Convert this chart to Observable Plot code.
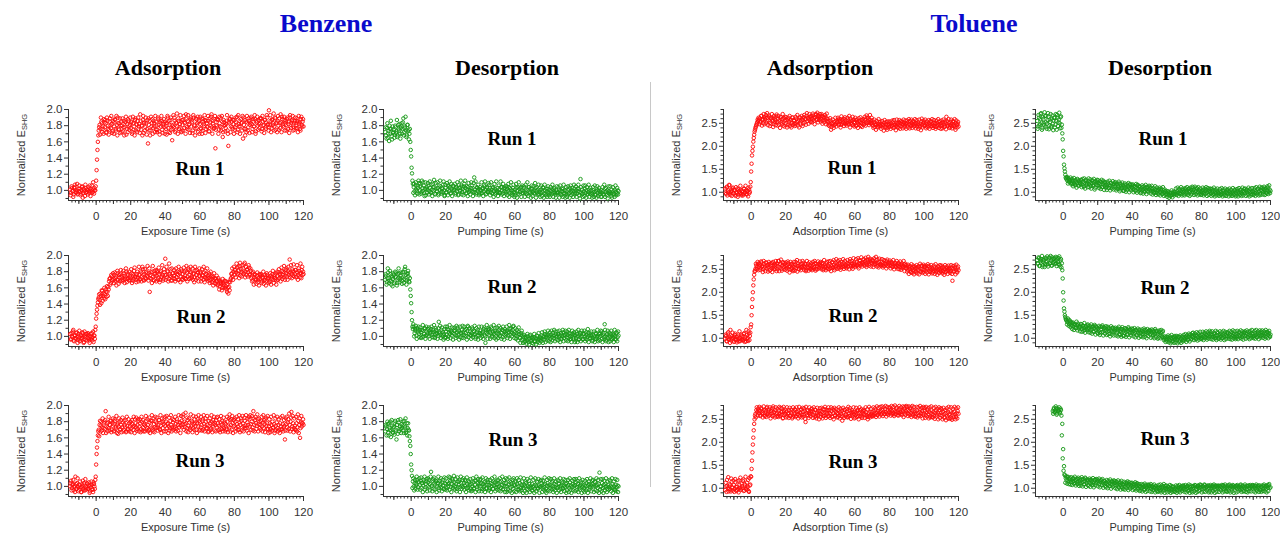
<!DOCTYPE html>
<html>
<head>
<meta charset="utf-8">
<script src="https://cdn.jsdelivr.net/npm/d3@7"></script>
<script src="https://cdn.jsdelivr.net/npm/@observablehq/plot@0.6"></script>
<style>
  html, body { margin: 0; padding: 0; background: #fff; }
  #fig { position: relative; width: 1280px; height: 535px; background: #fff; overflow: hidden; }
  .abs { position: absolute; white-space: nowrap; transform: translate(-50%, -50%); line-height: 1; }
  .gas { font-family: "Liberation Serif", "Times New Roman", serif; font-weight: bold; font-size: 26px; color: #0a0acc; }
  .head { font-family: "Liberation Serif", "Times New Roman", serif; font-weight: bold; font-size: 22px; color: #000; }
  .run { font-family: "Liberation Serif", "Times New Roman", serif; font-weight: bold; font-size: 19px; color: #000; }
  .xlab { font-family: "Liberation Sans", Arial, sans-serif; font-size: 11px; color: #333; }
  .ylab { font-family: "Liberation Sans", Arial, sans-serif; font-size: 11px; color: #333; transform: translate(-50%, -50%) rotate(-90deg); }
  .ylab sub { font-size: 7.5px; vertical-align: -2px; }
  .divider { position: absolute; left: 650px; top: 82px; width: 1px; height: 405px; background: #c8c8c8; }
  .panel { position: absolute; }
</style>
</head>
<body>
<div id="fig"></div>
<script>
// ---------------- DATA (normalized E_SHG, in hundredths) ----------------
// "A" series sampled every 0.5 s from their start time; "B" series are the interleaved
// samples 0.25 s later.
const sampleStep = 0.5;
const interleaveOffset = 0.25;

const benzeneAdsRun1 = `
101 97 103 99 95 104 100 98 108 96  99 102 94 100 105 97 101 93 103 98  100 104 97 102 99 106 98 101 103 100
112 138 160 174 181 176 185 172 179 188  178 183 171 186 180 175 189 177 182 173  184 179 187 174 181 190 176 183 171 185
180 173 186 178 184 169 182 188 175 181  177 185 172 183 179 187 174 181 186 176  182 194 175 180 187 171 184 178 183 176
158 181 186 174 179 188 177 183 172 185  180 175 188 173 184 179 186 171 182 178  185 176 183 190 172 181 187 175 162 180
178 186 174 183 179 189 176 182 185 173  181 187 177 184 194 178 186 175 182 188  179 185 174 190 181 176 188 183 172 186
182 177 189 174 185 180 187 176 183 179  186 173 184 191 178 183 176 188 152 181  180 187 175 183 190 178 185 172 184 181
177 186 174 155 183 188 179 185 176 182  187 178 184 191 175 182 186 179 183 174  164 181 187 176 172 184 178 186 181 189
182 176 185 179 188 173 184 180 187 177  183 189 176 185 181 187 178 184 190 182  199 181 186 177 188 183 179 190 175 184
186 180 189 177 184 191 182 178 187 183  181 188 176 185 190 179 184 187 174 183  186 180 189 177 184 182 176 188 181 185
179`;
const benzeneAdsRun1B = `
94 105 99 92 103 107 97 100 95 102  106 98 96 104 91 102 99 107 97 101  95 99 106 93 101 97 110 96 100 105
125 150 168 178 169 190 183 176 170 184  187 172 190 176 169 185 180 192 171 186  170 188 176 192 168 183 175 189 180 172
189 178 168 185 191 176 172 186 179 190  184 170 191 175 168 189 182 172 190 179  171 186 180 168 192 183 174 190 169 187
189 174 168 191 183 170 186 179 192 175  172 190 181 169 186 192 175 180 188 170  183 169 192 177 186 171 190 181 176 193
190 172 184 195 170 186 178 193 172 187  174 192 183 170 188 176 193 181 171 190  187 171 193 180 168 189 177 191 184 170
191 176 170 188 182 193 171 186 178 192  173 189 180 194 170 186 177 192 175 188  188 170 191 179 174 192 166 187 180 173
182 193 170 185 189 172 191 178 187 170  175 190 181 172 193 179 170 188 184 192  190 176 168 185 192 174 189 171 183 191
172 188 179 193 170 186 191 175 182 189  189 173 192 180 171 187 176 193 181 174  178 193 172 187 181 195 174 189 183 172
192 175 183 194 172 188 180 191 174 186  174 190 182 171 193 177 186 192 181 175  190 177 186 172 192 184 174 191 179 188`;

const benzeneAdsRun2 = `
103 97 100 106 95 101 98 104 99 96  100 94 102 97 105 99 93 101 96 103  98 102 95 100 97 104 99 93 101 108
122 133 142 148 145 153 141 156 150 147  152 158 149 155 161 168 172 166 174 169  171 176 168 174 170 178 165 173 177 169
175 170 178 166 173 180 171 176 169 174  172 178 169 175 181 173 170 177 174 168  176 171 179 174 183 170 177 172 180 175
173 178 155 176 171 180 174 169 177 182  175 179 172 177 170 181 174 176 171 179  196 176 173 180 171 177 183 174 169 178
175 171 179 173 180 176 170 178 174 181  177 173 180 175 171 179 174 182 176 172  179 174 170 178 173 181 176 172 179 175
174 178 172 176 170 179 173 177 171 175  172 176 169 174 167 173 170 166 172 168  169 164 170 162 167 165 160 166 163 168
162 158 165 153 161 167 172 178 174 180  176 182 179 185 177 181 187 175 183 179  184 178 191 180 176 183 179 185 177 181
174 178 169 173 176 170 175 167 172 177  171 175 168 173 165 170 174 169 176 172  173 168 175 171 177 170 174 172 178 169
175 179 172 177 174 181 176 173 179 175  178 174 181 176 195 179 177 183 175 180  177 182 174 179 176 181 173 178 182 176
177`;
const benzeneAdsRun2B = `
96 104 99 108 94 101 97 105 92 103  107 95 101 98 104 92 106 99 103 95  104 97 92 103 99 95 106 101 97 112
128 138 146 152 139 150 157 144 153 160  146 155 162 150 158 171 164 176 170 178  166 179 172 163 181 170 176 168 182 173
168 181 175 171 184 167 178 172 180 170  183 166 177 171 185 174 167 180 172 186  170 181 168 186 176 169 183 171 178 187
169 184 172 179 166 187 170 181 175 168  181 170 185 167 179 173 188 169 183 176  170 186 181 168 190 175 169 184 178 172
182 168 184 177 170 186 180 167 183 171  170 185 172 181 187 168 184 171 180 186  172 184 177 167 186 170 182 179 168 184
180 168 183 175 186 167 181 172 184 169  178 166 180 171 175 163 178 171 165 175  163 172 158 168 166 157 171 161 169 160
168 155 160 167 157 170 177 184 170 186  182 173 190 178 186 172 191 180 174 188  177 189 173 186 182 174 188 176 184 172
168 180 164 177 171 165 179 170 163 176  177 166 172 180 169 176 163 178 171 166  167 178 164 173 181 166 176 170 164 180
170 183 176 168 185 171 180 187 170 182  184 170 186 179 173 188 172 181 189 174  182 173 188 170 184 178 190 172 186 180`;

const benzeneAdsRun3 = `
100 107 98 103 95 101 112 97 104 99  96 102 99 93 101 97 104 95 100 98  103 97 101 94 99 102 96 105 100 108
127 148 163 170 176 168 180 173 166 178  171 193 174 168 179 172 176 181 170 175  177 169 181 173 166 178 174 180 171 176
173 179 170 176 182 168 175 171 178 174  180 172 177 170 175 183 173 169 176 181  174 178 171 180 173 168 177 175 181 172
176 170 179 174 172 181 168 177 173 180  178 173 176 182 170 175 179 172 177 184  175 180 172 178 174 169 181 176 173 179
182 174 177 171 180 176 173 179 175 181  176 189 180 173 178 172 182 175 179 170  174 179 172 177 183 175 170 178 174 181
179 173 176 181 170 177 174 180 172 176  181 175 178 172 180 174 177 169 176 182  173 178 175 170 179 176 181 174 172 178
177 171 180 175 173 182 176 170 178 174  175 180 172 177 174 170 179 176 181 173  178 174 181 175 172 179 176 186 174 177
180 173 193 176 182 178 175 183 177 180  176 181 174 179 172 177 183 175 178 171  174 178 171 176 180 173 177 169 175 179
172 176 170 178 174 171 177 173 175 169  177 173 179 171 176 180 192 174 178 172  175 170 178 173 181 176 160 179 174 178
176`;
const benzeneAdsRun3B = `
104 95 102 108 99 93 103 97 110 94  101 106 93 99 107 95 102 109 96 104  97 105 92 101 106 96 93 103 97 112
140 156 168 162 181 175 169 184 172 180  182 166 178 173 186 169 181 167 179 184  168 183 171 187 176 165 184 170 182 167
185 168 181 174 167 186 170 183 168 179  167 182 174 186 166 178 185 171 183 168  183 167 186 169 182 176 168 187 170 183
168 185 166 181 188 170 184 167 186 172  185 169 182 171 188 166 184 180 168 186  168 187 177 166 185 172 188 168 183 170
172 186 168 183 169 188 179 166 187 173  186 170 177 191 168 185 167 184 172 189  181 167 187 170 178 186 166 183 188 169
170 186 169 183 188 168 184 172 187 167  168 184 170 188 167 182 186 178 168 185  186 169 183 167 187 171 168 185 180 168
170 186 167 184 189 168 183 187 166 182  184 168 186 170 183 188 167 184 169 187  168 185 172 188 169 184 166 183 188 170
187 169 184 168 186 171 189 168 184 172  170 186 168 188 182 167 185 171 187 166  183 167 186 169 172 188 166 184 170 186
168 183 166 185 170 187 168 182 158 184  186 169 183 190 168 185 171 187 167 184  170 186 168 189 166 184 172 187 178 183`;

const benzeneDesRun1 = `
172 168 177 165 174 180 170 176 163 171  175 169 178 173 166 181 174 170 177 183  176 189 172 179 174 168 181 175 170 160
142 121 108 104 99 106 101 96 103 109  100 105 98 103 110 97 102 94 104 101  106 99 103 97 101 108 100 104 95 102
99 103 96 101 105 98 102 107 100 94  103 98 101 106 99 104 97 102 100 105  101 97 104 99 102 95 103 100 106 98
102 105 99 103 97 101 104 98 100 103  99 103 98 116 101 97 104 100 102 96  104 100 97 102 99 105 101 96 103 98
100 103 98 101 96 104 99 102 97 100  103 98 101 97 104 100 96 102 99 105  98 102 99 104 97 101 95 100 103 98
101 97 103 99 96 102 98 104 100 97  99 103 97 101 95 100 104 98 102 96  102 98 100 96 103 99 97 101 95 100
97 101 98 103 96 100 94 99 102 97  100 96 99 102 97 101 98 95 100 97  98 101 96 100 94 99 102 97 100 96
99 95 101 97 103 98 100 96 99 102  97 100 96 99 102 98 114 97 101 96  99 102 97 100 95 98 101 96 100 97
96 100 98 94 99 101 97 100 95 98  100 97 99 95 102 98 96 100 97 99  98 96 101 97 99 95 100 98 96 100
99`;
const benzeneDesRun1B = `
178 164 183 170 161 176 186 167 179 172  165 180 171 187 168 176 182 164 179 170  184 168 177 191 166 181 173 163 176 150
128 112 97 108 94 110 99 105 112 95  108 96 112 99 106 93 110 102 97 109  95 111 98 107 93 104 113 96 109 99
110 94 106 112 96 103 98 111 93 107  97 109 94 105 111 96 108 93 106 100  108 95 103 110 94 107 99 112 95 104
94 108 112 96 105 93 109 100 95 110  106 93 109 98 111 95 103 107 94 101  96 110 103 93 107 111 95 104 98 109
107 94 110 97 103 92 108 95 111 98  93 106 97 111 95 104 108 93 103 96  105 94 108 92 103 110 97 94 107 92
94 108 91 104 110 95 103 92 106 97  105 92 107 96 110 93 104 97 91 106  93 105 97 109 91 104 95 107 98 92
106 93 104 91 107 96 102 92 105 94  92 104 95 107 92 103 97 91 105 96  104 91 106 95 102 92 107 96 91 104
92 105 96 91 106 94 103 92 107 95  105 92 102 107 94 90 104 95 92 106  93 106 91 104 96 107 92 103 95 91
104 92 106 95 91 105 93 103 96 92  92 104 95 107 92 103 94 90 105 96  105 93 91 104 96 92 106 94 103 95`;

const benzeneDesRun2 = `
170 175 167 184 172 169 177 164 173 171  176 168 174 179 166 172 178 170 175 169  173 180 171 186 176 169 178 174 167 158
141 120 109 112 104 107 101 110 106 103  108 102 105 99 107 103 110 101 106 104  100 107 104 109 102 105 99 106 103 108
104 101 118 106 102 108 100 105 103 98  106 102 109 100 105 103 107 101 104 110  103 107 101 105 111 102 106 99 104 108
105 102 108 104 100 107 112 103 106 101  104 109 102 106 103 99 105 108 101 104  107 103 100 106 109 102 92 105 103 108
102 106 104 110 101 105 103 107 100 104  106 103 108 101 105 104 99 107 102 106  103 107 101 105 109 102 106 104 112 103
105 101 104 100 106 103 98 102 107 101  96 99 94 98 95 100 93 97 102 95  92 97 99 94 98 96 100 95 97 99
98 101 97 100 96 103 99 101 98 102  100 97 102 99 104 98 101 106 99 100  103 99 101 97 102 100 105 98 101 103
99 102 98 104 100 97 101 103 99 102  101 98 103 100 96 102 99 104 100 97  103 100 97 102 99 104 101 98 102 100
98 102 100 97 103 99 101 96 100 104  101 97 102 99 115 100 96 103 98 101  99 103 97 101 98 102 100 96 104 99
101`;
const benzeneDesRun2B = `
177 164 172 179 166 181 168 175 162 178  166 180 173 163 177 184 167 172 179 165  179 166 183 170 164 177 181 168 172 150
130 112 115 100 109 113 97 108 112 99  111 98 108 114 100 110 97 112 102 109  111 97 105 112 99 108 114 98 110 103
97 110 104 113 98 111 102 96 109 112  99 112 97 108 114 98 105 111 96 107  111 98 113 100 107 96 112 104 98 113
98 112 101 109 96 113 99 110 102 97  111 99 107 113 97 110 101 96 112 104  98 112 104 97 111 100 108 114 97 110
109 97 112 99 106 114 98 110 96 111  98 113 100 110 97 108 112 96 109 101  112 98 106 114 97 110 100 108 113 98
110 97 108 95 111 99 92 104 95 92  102 93 100 91 103 96 90 101 94 99  98 91 103 94 90 101 93 104 92 96
94 105 92 99 106 93 102 95 107 94  105 93 107 95 101 108 94 103 96 106  95 107 93 104 97 108 94 102 107 95
106 94 108 96 103 93 107 97 105 93  95 106 93 108 97 104 94 107 96 103  107 94 105 96 109 93 104 98 106 94
95 106 93 104 97 108 94 103 95 107  106 93 104 96 108 94 102 107 93 105  94 107 96 103 93 108 97 105 94 106`;

const benzeneDesRun3 = `
168 174 171 177 163 172 180 169 175 166  173 179 170 158 176 182 168 174 171 177  175 169 181 173 166 178 172 170 162 150
127 113 106 100 104 97 103 108 99 105  102 107 98 104 101 106 96 103 109 100  105 99 103 118 101 107 97 104 102 106
100 104 98 107 103 99 105 101 97 104  103 98 106 100 104 111 99 103 107 101  105 100 103 97 106 102 108 99 104 101
99 104 101 106 98 103 100 105 102 97  103 100 105 98 102 107 99 104 101 103  100 104 97 103 99 101 106 98 102 105
102 98 104 100 103 97 101 105 99 102  99 103 100 105 98 102 96 101 104 100  104 100 97 102 106 99 103 100 97 102
101 105 99 103 100 96 104 98 102 100  98 102 100 104 97 101 99 103 100 98  103 99 101 97 102 100 105 98 101 99
100 104 98 102 99 103 97 101 104 100  102 98 101 105 100 97 103 99 102 98  99 103 100 97 102 104 98 101 99 103
104 100 102 98 105 101 99 103 100 102  101 105 99 103 100 98 102 104 99 101  98 102 100 104 97 101 103 99 102 100
103 99 101 105 100 102 98 103 117 100  100 104 98 102 99 103 100 97 102 99  97 101 99 103 98 100 96 102 99 101
100`;
const benzeneDesRun3B = `
176 163 180 166 178 170 161 182 167 174  164 181 168 176 165 179 171 183 166 172  180 166 175 184 168 163 178 169 156 140
120 98 110 95 108 101 112 96 106 110  96 111 104 93 108 112 99 106 94 110  108 95 112 100 94 109 111 96 107 93
107 112 95 101 110 94 108 97 111 96  110 95 103 112 96 107 93 109 98 113  96 109 94 111 99 106 93 112 97 108
110 96 108 93 111 98 107 95 109 94  95 110 97 107 93 112 96 109 94 108  109 94 111 96 105 93 110 97 108 95
96 108 93 110 97 106 112 94 107 96  108 95 110 94 106 112 97 108 93 110  93 109 95 111 94 105 92 108 110 94
107 93 110 96 108 94 111 95 106 92  110 94 106 92 109 96 107 93 111 95  95 108 92 110 94 106 97 109 92 107
108 93 107 96 111 94 92 108 95 110  94 109 96 107 93 110 95 106 92 108  107 95 110 93 106 97 109 94 108 92
95 108 93 110 96 92 107 95 109 94  109 95 107 93 110 96 106 92 108 95  93 107 95 109 92 106 96 110 94 107
108 93 106 95 110 94 108 92 96 109  94 109 92 107 95 110 93 106 96 108  107 94 110 92 106 96 109 94 108 93`;

const tolueneAdsRun1 = `
108 96 112 101 99 115 94 106 103 110  97 104 92 100 108 95 102 98 105 93  101 96 107 99 104 95 102 110 98 112
145 180 199 218 232 240 246 252 255 258  261 254 266 257 250 263 259 268 255 262  256 264 251 260 270 255 248 262 257 265
253 260 247 258 264 252 259 245 261 256  250 257 246 262 254 244 258 251 263 249  255 248 260 253 245 258 262 250 256 259
257 263 252 260 266 255 261 258 264 253  262 258 267 256 263 270 259 265 261 257  264 259 266 256 262 257 263 260 255 252
254 248 256 242 251 245 253 247 250 256  252 258 249 255 247 257 253 250 259 251  256 251 258 248 254 260 250 255 246 253
251 257 246 253 249 255 252 244 257 250  255 249 258 252 262 254 259 251 257 253  250 245 252 242 248 246 251 243 249 247
244 249 241 247 251 243 248 240 246 250  247 243 250 245 252 246 241 249 244 251  248 252 245 250 243 253 247 251 246 249
250 246 253 248 255 244 251 247 252 249  245 250 243 252 247 241 249 254 246 250  252 246 250 243 248 245 251 247 253 244
247 251 244 249 242 250 246 253 248 245  250 245 252 247 243 251 264 248 245 250  246 252 244 249 253 247 241 250 246 249
243`;
const tolueneAdsRun1B = `
99 110 93 104 116 97 101 92 108 98  105 95 111 98 90 106 101 114 96 103  93 108 99 114 96 103 91 106 101 122
162 190 210 225 236 243 249 258 262 248  252 266 245 259 270 248 263 251 272 246  267 244 262 249 258 242 266 253 246 269
245 266 254 240 263 248 270 252 243 264  263 241 258 247 266 256 241 262 246 257  244 264 249 268 254 241 263 247 266 244
250 268 259 247 272 262 249 270 254 266  252 271 261 248 268 257 273 252 266 270  254 270 249 265 252 268 248 271 260 246
244 261 236 249 258 240 247 262 243 253  262 246 259 241 265 249 260 244 263 248  245 262 250 266 241 256 247 264 258 243
262 244 258 240 261 246 263 251 242 259  247 264 245 267 250 262 246 268 249 262  256 240 258 247 236 255 241 259 244 253
238 255 246 234 257 241 253 236 254 242  254 238 244 256 240 257 246 235 258 242  240 257 238 255 249 239 258 242 256 238
256 241 259 239 247 258 240 255 243 259  239 257 248 238 258 244 235 260 241 256  244 258 239 254 241 257 238 255 243 259
240 257 251 238 256 243 259 240 254 238  256 239 258 242 254 237 255 244 259 240  241 258 239 255 244 259 236 256 241 253`;

const tolueneAdsRun2 = `
99 105 93 110 97 102 118 95 104 100  92 107 98 103 95 108 93 101 97 106  104 96 111 99 93 107 101 115 96 112
130 168 200 228 245 251 258 254 262 256  260 253 265 257 250 262 256 264 252 259  255 261 249 258 264 253 257 262 251 259
263 256 268 254 260 251 258 265 255 261  257 252 259 263 250 256 261 253 258 249  255 260 253 270 257 251 259 254 262 256
252 258 255 261 249 256 262 254 259 251  257 253 260 255 263 250 258 256 261 254  259 254 262 257 251 260 255 263 253 258
256 261 253 258 266 255 260 252 257 263  260 255 263 258 254 261 257 264 256 260  258 263 256 261 267 259 254 262 257 265
262 258 265 260 256 263 268 259 264 261  265 261 268 263 259 266 270 262 267 264  263 268 260 265 262 270 264 258 266 261
261 266 259 264 257 263 260 267 258 262  259 264 257 262 255 261 258 263 256 260  257 262 255 260 253 258 256 261 254 259
252 256 248 254 250 245 253 249 255 247  251 246 254 249 256 247 252 258 250 245  249 255 247 253 250 257 246 252 248 254
251 247 254 249 245 252 248 255 250 246  248 253 246 251 244 250 247 253 249 252  250 246 253 225 251 247 254 249 245 252
248`;
const tolueneAdsRun2B = `
108 94 101 113 98 90 106 99 112 95  103 110 96 91 104 99 115 94 108 98  95 109 92 103 118 98 94 110 105 124
150 185 215 238 247 262 250 266 248 263  249 267 255 244 268 252 246 265 258 245  266 247 263 252 244 266 250 259 268 246
250 268 246 262 271 247 265 251 264 249  265 247 267 255 243 266 249 262 246 266  247 266 258 245 263 250 267 248 255 268
264 248 262 246 268 253 247 265 250 263  248 266 251 268 247 262 250 267 252 264  266 250 264 248 270 256 248 266 251 267
250 268 246 265 253 270 248 264 272 251  268 252 270 249 266 255 272 251 268 254  252 270 263 250 272 257 268 251 274 260
255 272 258 274 252 270 262 276 256 271  272 258 275 255 270 277 258 273 256 271  270 255 274 261 277 256 271 254 273 259
257 272 254 270 262 268 252 271 256 265  269 252 266 256 270 250 264 255 268 251  264 250 267 249 263 254 268 246 262 252
245 260 240 257 244 261 242 258 239 256  243 259 241 256 239 262 244 257 242 260  257 240 258 243 261 239 256 244 259 241
243 258 240 261 247 238 257 242 259 244  258 241 255 238 259 244 256 240 258 246  242 259 240 257 245 258 239 260 243 256`;

const tolueneAdsRun3 = `
96 104 118 100 93 109 97 121 102 95  107 99 113 94 103 98 117 101 96 110  100 119 95 106 98 112 103 94 122 108
125 160 195 226 250 262 270 266 273 264  268 259 272 265 262 270 257 267 274 263  266 271 260 268 263 274 258 265 270 262
264 258 269 262 275 260 266 253 268 263  261 267 256 264 270 258 265 262 255 268  263 270 257 266 261 268 259 264 272 260
266 260 268 244 263 270 258 265 261 267  262 268 259 265 271 257 264 260 267 263  268 261 266 258 264 272 259 265 262 269
257 264 261 268 255 263 270 259 266 262  264 270 258 266 262 268 256 265 271 260  261 267 255 263 269 258 265 260 266 262
266 259 264 268 257 263 270 261 256 265  262 268 260 265 259 250 263 258 266 261  265 259 267 262 270 264 260 268 263 266
268 263 270 265 261 272 266 262 269 264  266 271 263 268 264 270 261 267 273 265  269 264 271 266 262 270 267 273 263 268
265 270 262 268 273 264 269 261 267 263  267 262 269 264 258 266 271 263 268 260  263 268 259 265 270 261 266 256 264 269
261 266 258 264 269 260 265 262 270 259  264 258 266 261 255 263 269 257 265 260  262 267 252 264 259 266 261 255 263 268
262`;
const tolueneAdsRun3B = `
112 92 105 124 98 106 93 114 101 117  92 120 103 96 115 91 107 123 99 104  116 94 109 125 101 97 118 92 106 126
142 178 210 240 258 254 276 258 268 277  257 275 262 254 278 258 270 255 277 261  258 276 252 272 257 278 265 254 276 256
273 255 277 257 266 274 252 277 259 271  254 276 262 253 275 257 271 252 276 258  272 255 276 261 252 277 256 270 254 275
256 274 251 277 259 268 253 276 257 272  273 253 276 255 270 252 275 258 250 274  255 275 252 272 257 277 253 270 256 276
270 253 276 256 273 250 275 258 272 254  255 276 252 273 257 247 275 253 270 256  272 254 277 257 274 251 270 256 276 252
254 275 255 271 250 276 257 272 253 269  271 253 276 256 272 255 277 254 273 257  256 276 258 274 255 278 259 275 256 277
260 278 257 276 262 279 256 277 260 275  276 258 279 260 277 257 280 261 276 259  258 279 261 276 259 278 255 277 260 279
277 257 278 259 276 255 279 258 277 256  256 277 254 276 258 279 257 275 252 277  275 253 277 256 274 252 276 254 278 255
254 275 251 277 256 273 250 276 253 274  272 250 275 253 270 248 274 252 277 251  253 276 249 273 255 277 250 274 252 276`;

const tolueneDesRun1 = `
255 243 262 248 270 251 240 259 246 266  252 238 257 264 245 253 241 260 249 256  262 247 255 268 244 258 250 263 240 228
190 160 145 132 128 125 131 122 127 120  124 118 126 121 115 123 119 127 114 122  120 126 117 123 112 121 125 116 119 124
118 122 114 120 126 116 121 110 119 123  115 120 113 118 122 111 117 121 114 119  116 112 119 109 115 120 113 117 111 118
113 117 108 115 111 119 106 114 110 116  112 108 115 110 106 113 109 116 107 111  109 113 106 111 104 110 115 107 112 105
108 104 111 106 102 109 105 110 103 107  105 109 102 107 103 100 106 104 99 105  103 107 100 105 101 97 104 99 102 96
98 95 100 93 97 99 94 98 96 101  100 96 102 98 104 99 103 97 101 105  102 106 100 104 99 107 103 101 105 100
104 99 106 101 103 108 100 105 102 98  103 100 105 98 102 106 99 104 101 103  100 97 102 99 104 96 101 98 103 100
98 102 96 100 97 103 99 95 101 98  101 97 103 99 96 100 98 102 97 104  99 103 97 101 98 104 100 96 102 99
102 98 104 100 97 103 99 101 96 102  100 104 98 102 99 106 101 103 97 105  103 100 107 102 105 99 104 110 101 106
103`;
const tolueneDesRun1B = `
238 268 245 259 272 236 263 250 274 242  266 249 272 237 258 270 244 267 235 262  241 270 236 262 252 273 239 265 247 215
178 152 138 130 133 119 128 124 132 117  129 113 131 117 126 110 129 115 125 118  127 111 129 114 130 108 127 119 111 130
111 128 108 125 113 129 106 124 116 127  126 109 124 107 127 112 125 105 122 110  105 123 110 125 104 120 108 124 106 121
122 104 119 107 123 102 118 109 121 103  103 119 101 117 106 120 100 118 104 116  117 100 114 103 118 99 116 102 113 98
99 115 97 113 101 116 96 112 100 114  112 97 114 95 109 98 113 94 110 97  95 110 93 108 96 111 92 106 94 103
90 102 88 99 92 104 89 101 93 97  108 94 110 92 107 96 111 93 108 95  93 109 96 111 94 108 92 110 95 112
110 94 112 96 109 93 111 95 108 94  95 110 93 108 96 111 92 109 94 107  108 92 107 94 110 91 106 93 108 95
92 107 94 109 91 106 93 108 92 105  106 91 108 93 105 92 109 94 106 91  93 107 91 109 94 106 92 110 93 107
108 92 106 94 110 91 107 93 109 95  94 109 92 111 95 108 93 112 94 110  110 95 112 94 109 97 113 96 115 98`;

const tolueneDesRun2 = `
270 263 274 258 268 272 255 266 271 262  273 267 261 270 276 264 269 258 272 266  275 268 263 271 266 274 260 269 254 248
200 165 150 142 138 135 140 131 136 128  133 127 131 124 129 122 128 132 121 126  124 130 120 127 123 118 125 121 128 119
122 117 125 119 124 115 121 126 118 123  120 116 123 111 119 125 114 121 117 122  118 114 121 116 110 119 115 122 113 117
115 119 112 117 121 109 116 113 120 114  117 112 119 114 110 116 121 113 118 111  114 110 116 112 118 108 115 111 117 113
111 115 109 113 117 110 114 108 112 116  113 109 115 111 107 114 110 116 112 108  110 114 108 112 106 113 102 99 101 97
99 102 97 100 95 101 98 94 100 103  97 101 96 99 103 95 100 98 102 96  101 98 104 100 97 103 106 101 99 104
103 107 101 105 99 106 102 108 104 100  106 102 108 104 110 103 107 101 105 109  104 108 102 107 103 109 105 100 106 111
107 103 109 105 101 108 104 110 106 102  105 110 104 108 102 107 111 105 109 103  108 104 110 106 112 105 109 103 107 111
106 111 105 109 103 108 112 106 110 104  109 105 111 107 103 110 106 112 108 105  107 112 106 110 104 109 113 107 111 105
108`;
const tolueneDesRun2B = `
262 276 257 272 264 279 259 270 255 275  260 278 256 274 262 279 258 276 263 273  262 277 257 275 261 278 256 272 263 230
182 158 146 140 130 143 127 139 124 135  120 134 118 130 122 136 117 129 124 115  131 114 128 116 133 112 127 117 130 113
127 112 130 110 126 114 129 108 125 112  110 127 107 125 113 128 106 124 110 126  107 125 109 122 104 126 108 123 106 121
123 106 121 104 125 107 120 103 124 105  105 122 103 120 107 124 102 119 106 121  120 104 122 102 118 106 121 101 119 104
104 119 102 121 103 118 100 120 105 117  118 101 119 103 117 100 120 102 116 99  101 117 100 118 103 116 96 104 92 103
93 106 91 104 89 107 92 103 90 105  91 105 89 103 92 106 90 104 93 107  95 109 92 107 96 110 93 108 97 111
112 96 110 98 113 95 111 97 114 99  98 114 96 112 100 115 97 113 99 116  113 98 115 97 112 100 116 96 114 99
99 115 97 113 100 116 96 114 98 112  113 99 116 98 114 97 117 100 115 98  100 116 98 114 101 117 99 115 97 113
115 99 117 101 114 98 116 100 118 102  100 116 99 118 102 115 98 117 101 114  117 101 115 99 118 102 114 100 116 103`;

const tolueneDesRun3 = `
268 272 265 270 274 263 269 271 266 273 258 240
185 148 128 122 118 124 115 120 117 113  119 114 121 116 111 118 113 120 115 110  117 112 119 114 109 116 121 111 115 118
113 118 110 116 112 107 114 119 111 115  112 116 109 114 118 108 113 110 115 111  109 114 107 112 105 110 115 108 113 106
111 106 113 108 104 110 107 112 103 109  106 110 103 108 112 105 109 102 107 104  108 103 106 101 109 104 107 100 105 102
104 100 106 102 98 105 101 103 99 104  101 105 99 103 97 102 100 104 98 101  103 99 101 96 102 100 104 97 101 99
100 97 102 98 101 95 99 103 97 100  98 102 96 100 103 97 101 99 104 98  101 97 103 99 105 100 96 102 98 104
99 104 100 106 98 102 105 101 97 103  102 98 104 100 107 101 103 99 105 100  104 100 102 106 99 103 97 105 101 104
100 105 98 103 101 107 99 102 104 100  103 99 106 101 104 98 102 105 100 103  101 105 99 103 100 106 102 98 104 101
104 100 103 98 105 101 99 104 102 106  99 103 100 105 98 102 106 101 97 103  102 98 105 100 103 99 104 101 106 100
102`;
const tolueneDesRun3B = `
262 275 266 278 260 273 268 276 263 270 215
165 138 130 112 126 110 125 109 123 108  124 107 122 110 125 106 121 109 123 105  121 106 124 104 120 108 123 103 119 107
105 121 103 119 107 122 102 118 106 120  119 104 121 102 117 106 120 101 116 105  102 118 100 116 104 119 99 115 103 117
116 100 115 98 117 101 113 97 116 100  98 114 97 112 100 115 96 113 99 111  112 96 110 98 113 95 111 97 109 94
95 109 93 108 96 110 92 107 94 108  107 93 109 92 106 95 108 91 105 94  92 107 94 108 91 106 93 109 90 105
106 91 104 93 107 90 105 92 103 94  92 106 90 105 93 107 91 104 94 106  105 92 107 91 104 94 108 90 106 93
91 105 93 107 90 104 92 106 94 108  107 91 105 93 108 92 104 95 106 91  93 107 91 105 94 108 90 106 92 104
106 92 104 95 107 91 105 93 108 94  92 106 94 108 91 105 93 107 90 104  105 91 107 93 104 96 108 92 106 93
94 108 92 105 91 106 94 107 93 105  107 93 105 91 108 94 104 92 106 95  92 106 94 108 93 105 91 107 94 109`;

// first sample time (s) of each "A" series
const startBenzeneAds = [-15, -15, -15];
const startBenzeneDes = [-15, -15, -15];
const startTolueneAds = [-15, -15, -15];
const startTolueneDes = [-15, -15, -6];

// labels and ticks
const gasTitles = ["Benzene", "Toluene"];
const phaseTitles = ["Adsorption", "Desorption", "Adsorption", "Desorption"];
const runLabels = ["Run 1", "Run 2", "Run 3"];
const xLabels = ["Exposure Time (s)", "Pumping Time (s)", "Adsorption Time (s)", "Pumping Time (s)"];
const xMajorTicks = [0, 20, 40, 60, 80, 100, 120];
const xMidTicks = [-10, 10, 30, 50, 70, 90, 110];
const xMinorTicks = d3.range(-14, 121, 2);
const benzeneYTicks = [1.0, 1.2, 1.4, 1.6, 1.8, 2.0];
const benzeneYMinor = [0.9, 1.1, 1.3, 1.5, 1.7, 1.9];
const tolueneYTicks = [1.0, 1.5, 2.0, 2.5];
const tolueneYMinor = [0.9, 1.1, 1.2, 1.3, 1.4, 1.6, 1.7, 1.8, 1.9, 2.1, 2.2, 2.3, 2.4, 2.6, 2.7, 2.8];

// ---------------- BUILD ----------------
function parseSeries(str, start) {
  return str.trim().split(/\s+/).map((v, i) => ({ t: start + i * sampleStep, v: +v / 100 }));
}

const red = "#ff1010", green = "#1a9a1a";
const columns = [
  { left: 68,   a: [benzeneAdsRun1, benzeneAdsRun2, benzeneAdsRun3], b: [benzeneAdsRun1B, benzeneAdsRun2B, benzeneAdsRun3B], starts: startBenzeneAds, color: red,   yDomain: [0.875, 2.0], yTicks: benzeneYTicks, yMinor: benzeneYMinor },
  { left: 383,  a: [benzeneDesRun1, benzeneDesRun2, benzeneDesRun3], b: [benzeneDesRun1B, benzeneDesRun2B, benzeneDesRun3B], starts: startBenzeneDes, color: green, yDomain: [0.875, 2.0], yTicks: benzeneYTicks, yMinor: benzeneYMinor },
  { left: 723,  a: [tolueneAdsRun1, tolueneAdsRun2, tolueneAdsRun3], b: [tolueneAdsRun1B, tolueneAdsRun2B, tolueneAdsRun3B], starts: startTolueneAds, color: red,   yDomain: [0.82, 2.8],  yTicks: tolueneYTicks, yMinor: tolueneYMinor },
  { left: 1035, a: [tolueneDesRun1, tolueneDesRun2, tolueneDesRun3], b: [tolueneDesRun1B, tolueneDesRun2B, tolueneDesRun3B], starts: startTolueneDes, color: green, yDomain: [0.82, 2.8],  yTicks: tolueneYTicks, yMinor: tolueneYMinor }
];
const rowTops = [109, 255, 405];
const runPos = [
  [[200, 168], [201, 316], [200, 460]],
  [[512, 138], [512, 286], [513, 439]],
  [[852, 167], [853, 315], [853, 461]],
  [[1163, 138], [1165, 287], [1165, 438]]
];
const frameW = 235, frameH = 91, mL = 40, mR = 10, mT = 8, mB = 24;

const fig = document.getElementById("fig");
function addText(cls, html, x, y) {
  const d = document.createElement("div");
  d.className = "abs " + cls;
  d.innerHTML = html;
  d.style.left = x + "px";
  d.style.top = y + "px";
  fig.appendChild(d);
}

addText("gas", gasTitles[0], 326, 24);
addText("gas", gasTitles[1], 974, 24);
[168, 507, 820, 1160].forEach((x, i) => addText("head", phaseTitles[i], x, 68));
const div = document.createElement("div"); div.className = "divider"; fig.appendChild(div);

columns.forEach((col, ci) => {
  col.a.forEach((str, ri) => {
    const data = parseSeries(str, col.starts[ri]).concat(parseSeries(col.b[ri], col.starts[ri] + interleaveOffset));
    const yMin = col.yDomain[0];
    const chart = Plot.plot({
      width: mL + frameW + mR,
      height: mT + frameH + mB,
      marginLeft: mL, marginRight: mR, marginTop: mT, marginBottom: mB,
      x: { domain: [-16, 120], label: null },
      y: { domain: col.yDomain, label: null },
      style: { fontFamily: "'Liberation Sans', Arial, sans-serif", fontSize: "11.5px", color: "#333", background: "transparent", overflow: "visible" },
      marks: [
        Plot.ruleX([-16], { stroke: "#333", strokeWidth: 1 }),
        Plot.ruleY([yMin], { stroke: "#333", strokeWidth: 1 }),
        Plot.axisX({ ticks: xMajorTicks, tickSize: 5, tickPadding: 6, tickFormat: d => String(d), label: null }),
        Plot.axisX({ ticks: xMidTicks, tickSize: 4, tickFormat: () => "", label: null }),
        Plot.axisX({ ticks: xMinorTicks, tickSize: 2.5, tickFormat: () => "", label: null }),
        Plot.axisY({ ticks: col.yTicks, tickSize: 4, tickPadding: 2, tickFormat: d => d.toFixed(1), label: null }),
        Plot.axisY({ ticks: col.yMinor, tickSize: 2.5, tickFormat: () => "", label: null }),
        Plot.dot(data, { x: "t", y: "v", r: 1.75, stroke: col.color, strokeWidth: 0.95, fill: "none" })
      ]
    });
    const wrap = document.createElement("div");
    wrap.className = "panel";
    wrap.style.left = (col.left - mL) + "px";
    wrap.style.top = (rowTops[ri] - mT) + "px";
    wrap.appendChild(chart);
    fig.appendChild(wrap);

    addText("ylab", "Normalized E<sub>SHG</sub>", col.left - 46, rowTops[ri] + frameH / 2);
    addText("xlab", xLabels[ci], col.left + frameW / 2, rowTops[ri] + frameH + 31);
    addText("run", runLabels[ri], runPos[ci][ri][0], runPos[ci][ri][1]);
  });
});
</script>
</body>
</html>
